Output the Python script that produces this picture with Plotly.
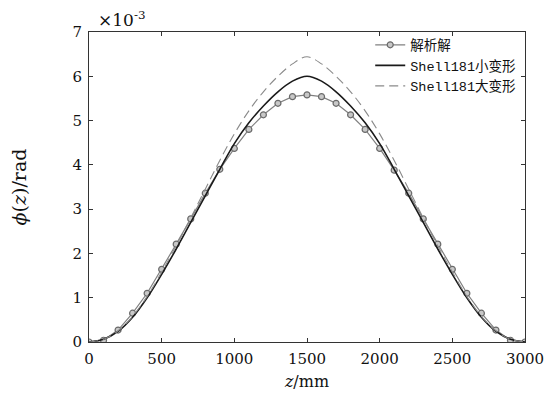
import plotly.graph_objects as go

z_mm = [0, 100, 200, 300, 400, 500, 600, 700, 800, 900, 1000, 1100, 1200, 1300, 1400, 1500,
        1600, 1700, 1800, 1900, 2000, 2100, 2200, 2300, 2400, 2500, 2600, 2700, 2800, 2900, 3000]

analytic = [0, 0.04, 0.27, 0.65, 1.10, 1.64, 2.21, 2.78, 3.36, 3.90, 4.37, 4.80, 5.13, 5.39, 5.54, 5.58,
            5.54, 5.39, 5.13, 4.80, 4.37, 3.88, 3.36, 2.78, 2.21, 1.64, 1.10, 0.65, 0.27, 0.04, 0]

shell_small = [0, 0.06, 0.24, 0.56, 1.00, 1.53, 2.10, 2.70, 3.30, 3.90, 4.48, 4.95, 5.33, 5.65, 5.89, 6.00,
               5.89, 5.65, 5.33, 4.95, 4.48, 3.90, 3.30, 2.70, 2.10, 1.53, 1.00, 0.56, 0.24, 0.06, 0]

shell_large = [0, 0.06, 0.25, 0.58, 1.03, 1.58, 2.17, 2.80, 3.45, 4.10, 4.70, 5.22, 5.65, 6.00, 6.28, 6.44,
               6.28, 6.00, 5.65, 5.22, 4.70, 4.10, 3.45, 2.80, 2.17, 1.58, 1.03, 0.58, 0.25, 0.06, 0]

names = ["解析解", "Shell181小变形", "Shell181大变形"]
x_ticks = [0, 500, 1000, 1500, 2000, 2500, 3000]
y_ticks = [0, 1, 2, 3, 4, 5, 6, 7]

serif = "DejaVu Serif, Liberation Serif, serif"
legend_font = "Liberation Mono, Noto Sans CJK SC, monospace"

fig = go.Figure()
fig.add_trace(go.Scatter(
    x=z_mm, y=analytic, name=names[0], mode="lines+markers",
    line=dict(color="#808080", width=1.2),
    marker=dict(symbol="circle", size=6, color="#c8c8c8", line=dict(color="#6a6a6a", width=1.2)),
))
fig.add_trace(go.Scatter(
    x=z_mm, y=shell_small, name=names[1], mode="lines",
    line=dict(color="#1a1a1a", width=1.6, shape="spline"),
))
fig.add_trace(go.Scatter(
    x=z_mm, y=shell_large, name=names[2], mode="lines",
    line=dict(color="#8a8a8a", width=1.1, dash="9px,5px", shape="spline"),
))

axis_common = dict(
    showline=True, linecolor="#333", linewidth=1, mirror="ticks",
    ticks="inside", ticklen=4, tickcolor="#333", tickwidth=1,
    showgrid=False, zeroline=False,
    tickfont=dict(family=serif, size=15, color="#111"),
    ticklabelstandoff=3,
)

fig.update_layout(
    width=555, height=397,
    margin=dict(l=81, r=38, t=24, b=63, autoexpand=False),
    paper_bgcolor="white", plot_bgcolor="white",
    showlegend=True,
    legend=dict(
        x=0.645, y=1.008, xanchor="left", yanchor="top",
        bgcolor="rgba(255,255,255,0)", borderwidth=0,
        font=dict(family=legend_font, size=13.5, color="#111"),
        tracegroupgap=0, itemwidth=30,
    ),
    xaxis=dict(
        range=[0, 3000], tickvals=x_ticks,
        title=dict(text="<i>z</i>/mm", font=dict(family=serif, size=16, color="#111"), standoff=8),
        **axis_common,
    ),
    yaxis=dict(
        range=[0, 7], tickvals=y_ticks,
        title=dict(text="<i>ϕ</i>(<i>z</i>)/rad", font=dict(family=serif, size=19, color="#111"), standoff=40),
        **axis_common,
    ),
    annotations=[dict(
        text="×10<sup>-3</sup>", xref="paper", yref="paper", x=0.015, y=1.0,
        xanchor="left", yanchor="bottom", yshift=0, showarrow=False,
        font=dict(family=serif, size=17, color="#111"),
    )],
)

fig.write_html("out.html")
